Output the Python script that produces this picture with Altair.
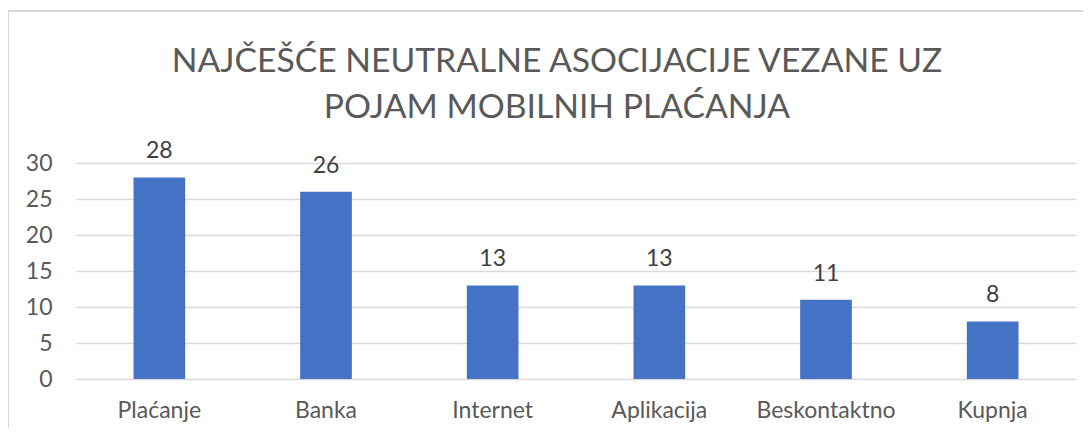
import altair as alt
import pandas as pd

categories = ["Plaćanje", "Banka", "Internet", "Aplikacija", "Beskontaktno", "Kupnja"]
values = [28, 26, 13, 13, 11, 8]
title_lines = ["NAJČEŠĆE NEUTRALNE ASOCIJACIJE VEZANE UZ", "POJAM MOBILNIH PLAĆANJA"]

df = pd.DataFrame({"kategorija": categories, "broj": values})

FONT = "Lato"
GREY = "#595959"

x_enc = alt.X("kategorija:N", sort=categories, title=None,
              scale=alt.Scale(paddingInner=0.69, paddingOuter=0.345),
              axis=alt.Axis(labelAngle=0, labelFont=FONT, labelFontSize=23,
                            labelColor=GREY, labelPadding=20, ticks=False,
                            domain=False, grid=False))
y_enc = alt.Y("broj:Q", title=None,
              scale=alt.Scale(domain=[0, 30]),
              axis=alt.Axis(values=[0, 5, 10, 15, 20, 25, 30], labelFont=FONT,
                            labelFontSize=23, labelColor=GREY, labelPadding=24,
                            ticks=False, domain=False, gridColor="#d9d9d9",
                            gridWidth=1.3))

base = alt.Chart(df)
bars = base.mark_bar(color="#4472C4").encode(x=x_enc, y=y_enc)
labels = base.mark_text(font=FONT, fontSize=23, color="#404040", dy=-14,
                        baseline="bottom").encode(x=x_enc, y=y_enc,
                                                  text=alt.Text("broj:Q"))

frame_left = alt.Chart(df).mark_rule(color="#d9d9d9", strokeWidth=1.5).encode(
    x=alt.value(-68), y=alt.value(-152), y2=alt.value(300))
frame_top = alt.Chart(df).mark_rule(color="#d9d9d9", strokeWidth=1.5).encode(
    x=alt.value(-68), x2=alt.value(1100), y=alt.value(-152))

chart = alt.layer(frame_left, frame_top, bars, labels).properties(
    width=1000, height=216,
    autosize=alt.AutoSizeParams(type="none"),
    padding={"left": 68, "top": 155, "right": 7, "bottom": 50},
    title=alt.TitleParams(title_lines, font=FONT, fontSize=33.7, fontWeight="normal",
                          color=GREY, anchor="middle", dx=-19, offset=-114,
                          lineHeight=46),
).configure_view(stroke=None)

chart.save("out.html", embed_options={"renderer": "svg", "actions": False})
